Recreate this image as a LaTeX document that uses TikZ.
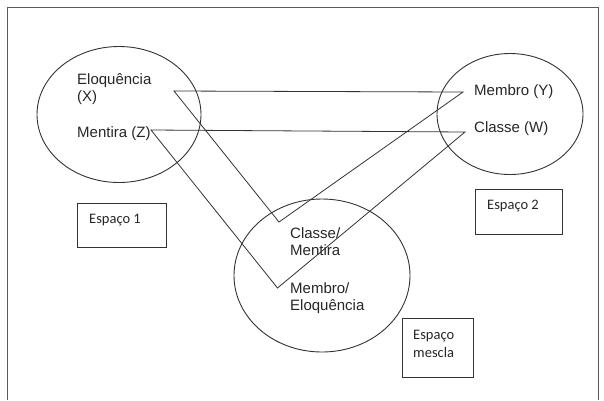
\documentclass[tikz,border=0pt]{standalone}
\usepackage{fontspec}
\setmainfont{Liberation Sans}
\newfontfamily\calfont{Carlito}
\usetikzlibrary{shapes.geometric}
\begin{document}
\begin{tikzpicture}[x=1pt,y=-1pt,
  lbl/.style={inner sep=0pt, align=left, anchor=base west, font=\fontsize{15}{17}\selectfont, text=black!85},
  boxlbl/.style={inner sep=0pt, align=left, anchor=base west, font=\calfont\fontsize{14.5}{17.5}\selectfont, text=black!85},
  space/.style={draw=black!80, line width=0.9pt, ellipse, inner sep=0pt},
  boxline/.style={draw=black!80, line width=0.9pt},
  link/.style={draw=black!80, line width=0.8pt, line join=miter}]
\useasboundingbox (0,0) rectangle (604,400);
% outer frame
\draw[draw=black!65, line width=0.9pt] (7.5,400) -- (7.5,7.5) -- (598,7.5) -- (598,400);
% spaces
\node[space, minimum width=164pt, minimum height=136pt] (s1) at (119,114.5) {};
\node[space, minimum width=146pt, minimum height=121pt] (s2) at (510,114) {};
\node[space, minimum width=176pt, minimum height=153pt] (s3) at (322,275.5) {};
% boxes
\draw[boxline] (77.3,203.3) rectangle (166,247.3);
\draw[boxline] (475.7,189.3) rectangle (562.5,234.3);
\draw[boxline] (402,318) rectangle (473,377);
% labels
\node[lbl] (eloq) at (77,101) {Eloquência\\(X)};
\node[lbl] (ment) at (77,137) {Mentira (Z)};
\node[lbl] (memb) at (474,95) {Membro (Y)};
\node[lbl] (clas) at (474,132) {Classe (W)};
\node[lbl] (cm) at (290,255) {Classe/\\Mentira};
\node[lbl] (me) at (290,310) {Membro/\\Eloquência};
\node[boxlbl] (e1) at (89,223) {Espaço 1};
\node[boxlbl] (e2) at (487,209) {Espaço 2};
\node[boxlbl] (e3) at (413,357) {Espaço\\mescla};
% vertices
\coordinate (eloqV) at (174,91);
\coordinate (mentV) at (151,130);
\coordinate (membV) at (463,92);
\coordinate (clasV) at (465,132);
\coordinate (cmV) at (279,222);
\coordinate (meV) at (277.5,288);
\draw[link] (eloqV) -- (membV) -- (cmV) -- cycle;
\draw[link] (mentV) -- (clasV) -- (meV) -- cycle;
\end{tikzpicture}
\end{document}
